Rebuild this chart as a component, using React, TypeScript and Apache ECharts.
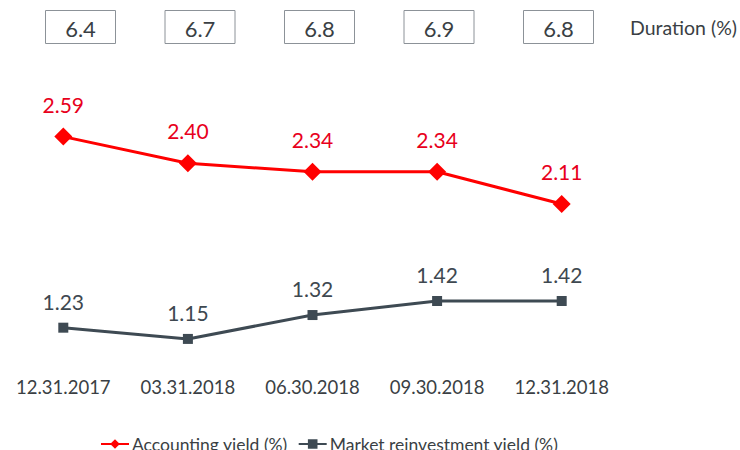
import React, { useEffect, useRef } from "react";
import * as echarts from "echarts";

const categories = ["12.31.2017", "03.31.2018", "06.30.2018", "09.30.2018", "12.31.2018"];
const accountingYield = [2.59, 2.4, 2.34, 2.34, 2.11];
const marketYield = [1.23, 1.15, 1.32, 1.42, 1.42];
const durations = ["6.4", "6.7", "6.8", "6.9", "6.8"];

const FONT = "Lato";

export default function App() {
  const ref = useRef<HTMLDivElement>(null);
  useEffect(() => {
    document.body.style.margin = "0";
    if (!ref.current) return;
    const chart = echarts.init(ref.current, null, { renderer: "svg" });
    const boxStartX = 45.5;
    const boxStep = 119.5;
    const graphic: any[] = [];
    durations.forEach((d, i) => {
      graphic.push({
        type: "rect",
        shape: { x: boxStartX + i * boxStep, y: 10.5, width: 70, height: 33 },
        style: { fill: "#ffffff", stroke: "#8c9298", lineWidth: 1 },
        z: 10,
      });
      graphic.push({
        type: "text",
        x: boxStartX + i * boxStep + 35,
        y: 28,
        style: {
          text: d,
          fill: "#3a3f44",
          font: `22px ${FONT}`,
          align: "center",
          verticalAlign: "middle",
        },
        z: 11,
      });
    });
    graphic.push({
      type: "text",
      x: 630,
      y: 27,
      style: {
        text: "Duration (%)",
        fill: "#3a3f44",
        font: `19.5px ${FONT}`,
        align: "left",
        verticalAlign: "middle",
      },
      z: 11,
    });

    chart.setOption({
      animation: false,
      textStyle: { fontFamily: FONT },
      graphic,
      grid: { left: 1, right: 116, top: 79, height: 281, containLabel: false },
      xAxis: {
        type: "category",
        data: categories,
        boundaryGap: true,
        axisLine: { show: false },
        axisTick: { show: false },
        splitLine: { show: false },
        axisLabel: { color: "#3a3f44", fontSize: 18.5, fontFamily: FONT, margin: 17 },
      },
      yAxis: {
        type: "value",
        min: 1,
        max: 3,
        show: false,
      },
      legend: {
        bottom: -8,
        left: 95,
        itemWidth: 28,
        itemHeight: 12,
        itemGap: 10,
        textStyle: { color: "#3a3f44", fontSize: 17.5, fontFamily: FONT, padding: [0, 0, 0, -2] },
        data: ["Accounting yield (%)", "Market reinvestment yield (%)"],
      },
      series: [
        {
          name: "Accounting yield (%)",
          type: "line",
          data: accountingYield,
          symbol: "diamond",
          symbolSize: 18,
          lineStyle: { color: "#ff0000", width: 3 },
          itemStyle: { color: "#ff0000" },
          label: {
            show: true,
            position: "top",
            distance: 13,
            color: "#e8001c",
            fontSize: 21,
            fontFamily: FONT,
            formatter: (p: any) => p.value.toFixed(2),
          },
        },
        {
          name: "Market reinvestment yield (%)",
          type: "line",
          data: marketYield,
          symbol: "rect",
          symbolSize: 10,
          lineStyle: { color: "#3e4a53", width: 3 },
          itemStyle: { color: "#3e4a53" },
          label: {
            show: true,
            position: "top",
            distance: 11,
            color: "#3e4850",
            fontSize: 21,
            fontFamily: FONT,
            formatter: (p: any) => p.value.toFixed(2),
          },
        },
      ],
    });
    return () => chart.dispose();
  }, []);
  return <div ref={ref} style={{ width: 740, height: 450 }} />;
}
